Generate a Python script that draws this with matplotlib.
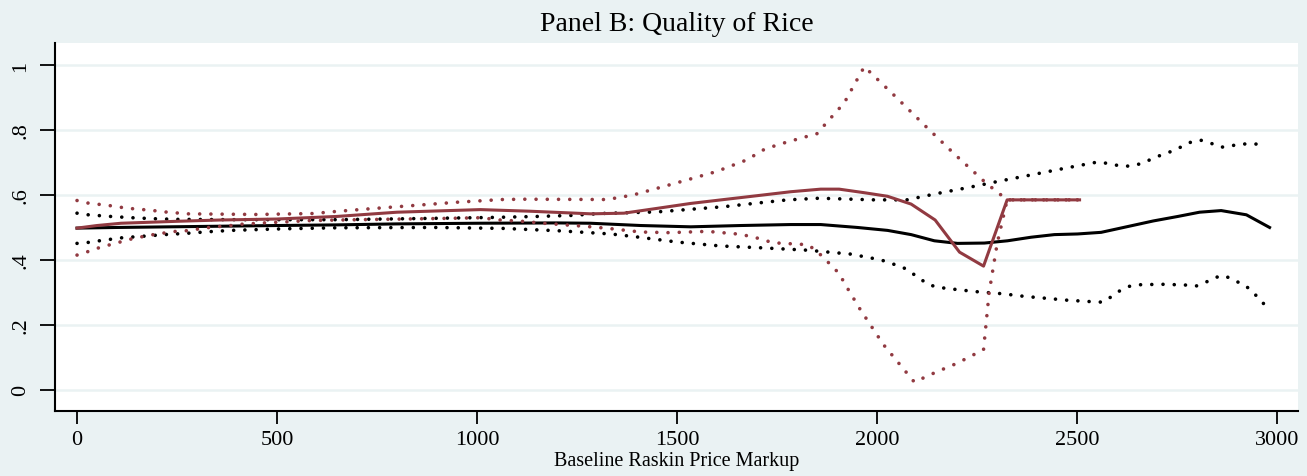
import matplotlib
matplotlib.use("Agg")
import matplotlib.pyplot as plt

# black series: estimate with dotted confidence band
black_mid_x = [0, 100, 300, 500, 650, 800, 1000, 1200, 1284, 1409, 1534, 1659, 1784, 1859,
               1951, 2026, 2085, 2143, 2201, 2268, 2326, 2385, 2443, 2501, 2560, 2627, 2690,
               2752, 2806, 2860, 2923, 2981]
black_mid = [0.498, 0.500, 0.503, 0.506, 0.508, 0.511, 0.513, 0.514, 0.513, 0.506, 0.502, 0.506,
             0.509, 0.509, 0.500, 0.491, 0.478, 0.459, 0.451, 0.452, 0.459, 0.470, 0.478, 0.480,
             0.485, 0.503, 0.520, 0.534, 0.547, 0.552, 0.539, 0.500]

black_hi_x = [0, 28, 83, 137, 191, 247, 400, 654, 883, 1043, 1152, 1235, 1309, 1451, 1534, 1617,
              1692, 1776, 1855, 1993, 2074, 2152, 2228, 2307, 2386, 2468, 2549, 2580, 2608, 2634,
              2661, 2685, 2710, 2735, 2760, 2783, 2808, 2835, 2860, 2887, 2914, 2941, 2969]
black_hi = [0.544, 0.539, 0.534, 0.530, 0.527, 0.525, 0.524, 0.524, 0.528, 0.531, 0.534, 0.537,
            0.543, 0.548, 0.556, 0.564, 0.574, 0.585, 0.590, 0.585, 0.585, 0.605, 0.623, 0.643,
            0.662, 0.682, 0.701, 0.697, 0.689, 0.689, 0.697, 0.710, 0.723, 0.734, 0.748, 0.762,
            0.769, 0.759, 0.747, 0.752, 0.757, 0.757, 0.756]

black_lo_x = [0, 28, 56, 110, 165, 218, 274, 330, 385, 465, 520, 650, 900, 1068, 1143, 1201, 1255,
              1334, 1392, 1501, 1609, 1717, 1826, 1934, 2010, 2065, 2105, 2125, 2150, 2205, 2259,
              2313, 2367, 2422, 2476, 2530, 2564, 2587, 2610, 2635, 2661, 2714, 2769, 2796, 2821,
              2845, 2868, 2894, 2919, 2937, 2956, 2974]
black_lo = [0.451, 0.454, 0.459, 0.468, 0.473, 0.478, 0.482, 0.487, 0.491, 0.494, 0.496, 0.499,
            0.500, 0.497, 0.493, 0.490, 0.486, 0.480, 0.472, 0.455, 0.443, 0.437, 0.430, 0.418,
            0.400, 0.377, 0.345, 0.326, 0.316, 0.308, 0.301, 0.296, 0.288, 0.282, 0.276, 0.272,
            0.270, 0.288, 0.308, 0.321, 0.324, 0.325, 0.323, 0.319, 0.331, 0.346, 0.352, 0.336,
            0.323, 0.303, 0.280, 0.254]

# red series
red_mid_x = [0, 50, 110, 250, 358, 500, 650, 800, 1008, 1133, 1284, 1367, 1451, 1534, 1617, 1701,
             1784, 1859, 1905, 1968, 2026, 2085, 2145, 2206, 2266, 2325, 2506]
red_mid = [0.498, 0.506, 0.513, 0.519, 0.523, 0.526, 0.534, 0.547, 0.555, 0.550, 0.542, 0.544,
           0.559, 0.574, 0.586, 0.598, 0.610, 0.618, 0.618, 0.607, 0.596, 0.572, 0.523, 0.424,
           0.381, 0.585, 0.585]

red_hi_x = [0, 28, 56, 83, 110, 137, 165, 191, 218, 247, 274, 450, 591, 654, 737, 845, 953, 1062,
            1116, 1325, 1390, 1495, 1598, 1674, 1720, 1772, 1824, 1849, 1884, 1918, 1943, 1968,
            2045, 2120, 2195, 2272, 2325, 2506]
red_hi = [0.583, 0.575, 0.571, 0.567, 0.562, 0.558, 0.555, 0.552, 0.548, 0.545, 0.542, 0.540,
          0.543, 0.550, 0.558, 0.568, 0.578, 0.586, 0.587, 0.586, 0.600, 0.636, 0.672, 0.708,
          0.742, 0.762, 0.780, 0.788, 0.837, 0.884, 0.940, 0.995, 0.904, 0.813, 0.724, 0.637,
          0.585, 0.585]

red_lo_x = [0, 28, 56, 83, 110, 137, 165, 191, 218, 247, 274, 302, 330, 356, 385, 412, 465, 520,
            575, 653, 925, 1008, 1058, 1112, 1166, 1220, 1275, 1329, 1409, 1480, 1576, 1659, 1712,
            1738, 1826, 1848, 1865, 1884, 1906, 1918, 1957, 2016, 2093, 2146, 2200, 2266, 2280,
            2300, 2325, 2506]
red_lo = [0.415, 0.426, 0.438, 0.447, 0.456, 0.465, 0.472, 0.478, 0.483, 0.488, 0.490, 0.495,
          0.500, 0.503, 0.506, 0.510, 0.514, 0.517, 0.521, 0.523, 0.528, 0.530, 0.523, 0.519,
          0.513, 0.508, 0.503, 0.497, 0.486, 0.484, 0.488, 0.479, 0.464, 0.453, 0.447, 0.429,
          0.408, 0.385, 0.357, 0.329, 0.249, 0.139, 0.024, 0.054, 0.082, 0.124, 0.300, 0.450,
          0.585, 0.585]

y_ticks = [0, 0.2, 0.4, 0.6, 0.8, 1.0]
y_labels = ["0", ".2", ".4", ".6", ".8", "1"]
x_ticks = [0, 500, 1000, 1500, 2000, 2500, 3000]

BG = "#eaf2f3"
RED = "#913a41"
plt.rcParams["font.family"] = ["Liberation Serif", "DejaVu Serif"]

fig = plt.figure(figsize=(13.07, 4.77), dpi=100, facecolor=BG)
ax = fig.add_axes([0.0421, 0.1363, 0.951, 0.7715])
ax.set_facecolor("white")

for y in y_ticks:
    ax.axhline(y, color=BG, lw=1.8, zorder=0)

dot = dict(linestyle=(0, (0.01, 3.1)), lw=2.6, dash_capstyle="round")
ax.plot(black_hi_x, black_hi, color="black", **dot)
ax.plot(black_lo_x, black_lo, color="black", **dot)
ax.plot(black_mid_x, black_mid, color="black", lw=2.2)
ax.plot(red_hi_x, red_hi, color=RED, **dot)
ax.plot(red_lo_x, red_lo, color=RED, **dot)
ax.plot(red_mid_x, red_mid, color=RED, lw=2.2)

ax.set_xlim(-55, 3052)
ax.set_ylim(-0.065, 1.068)
ax.set_yticks(y_ticks)
ax.set_yticklabels(y_labels, rotation=90, va="center")
ax.set_xticks(x_ticks)
ax.tick_params(axis="y", length=10.8, width=1.3, pad=7, labelsize=16)
ax.tick_params(axis="x", length=9.4, width=1.3, pad=4, labelsize=16)

for s in ["top", "right"]:
    ax.spines[s].set_visible(False)
for s in ["left", "bottom"]:
    ax.spines[s].set_linewidth(1.5)

ax.set_title("Panel B: Quality of Rice", fontsize=20, pad=9)
ax.set_xlabel("Baseline Raskin Price Markup", fontsize=14.5, labelpad=2)

fig.savefig("out.png", dpi=100, facecolor=BG)
